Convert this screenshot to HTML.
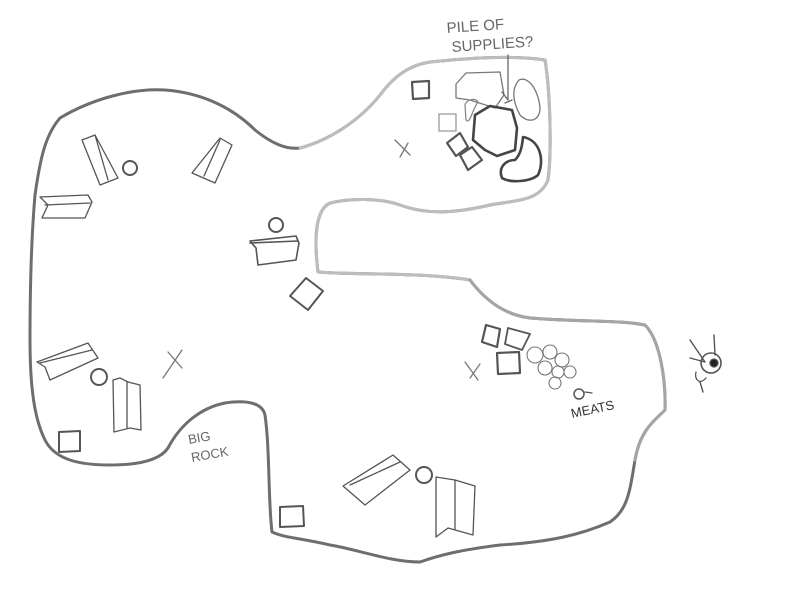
<!DOCTYPE html>
<html><head><meta charset="utf-8"><style>
html,body{margin:0;padding:0;background:#fff;width:800px;height:600px;overflow:hidden}
svg{display:block}
text{font-family:"Liberation Sans",sans-serif;fill:#666}
</style></head><body>
<svg width="800" height="600" viewBox="0 0 800 600" fill="none" stroke-linecap="round" stroke-linejoin="round">
<!-- main outline -->
<path d="M60,118 C90,100 130,88 165,90 C205,93 235,110 255,130 C270,142 285,150 300,148 C330,140 360,120 380,95 C395,75 410,65 430,62 C470,58 510,55 545,60 C550,90 552,150 548,180 C540,200 520,200 490,205 C460,212 430,216 400,205 C380,198 350,198 330,203 C315,210 314,240 318,272 C350,275 420,272 470,280 C485,300 505,315 530,318 C580,322 620,320 645,325 C660,340 666,380 665,410 C655,420 640,430 635,460 C630,490 628,510 610,522 C580,535 550,542 500,545 C460,550 440,555 420,562 C390,562 360,550 330,545 C300,538 285,538 272,532 C268,500 270,450 265,415 C262,402 245,400 225,403 C200,408 180,425 168,448 C160,460 140,465 110,465 C80,465 55,460 45,440 C35,420 30,390 30,340 C30,280 32,230 35,195 C40,160 45,135 60,118 Z" stroke="#6e6e6e" stroke-width="3"/>
<path d="M300,148 C330,140 360,120 380,95 C395,75 410,65 430,62 C470,58 510,55 545,60 C550,90 552,150 548,180 C540,200 520,200 490,205 C460,212 430,216 400,205 C380,198 350,198 330,203 C315,210 314,240 318,272 C350,275 420,272 470,280" stroke="#bdbdbd" stroke-width="3"/>
<path d="M470,280 C485,300 505,315 530,318 C580,322 620,320 645,325 C660,340 666,380 665,410 C655,420 640,430 635,460" stroke="#a5a5a5" stroke-width="3"/>
<g stroke="#555" stroke-width="1.3">
<!-- tables top-left -->
<path d="M82,140 L95,135 L118,178 L100,185 Z M95,135 L108,180"/>
<path d="M40,197 L88,195 L92,202 L85,218 L42,218 L48,205 Z M45,205 L90,203"/>
<path d="M192,173 L220,138 L232,145 L215,183 Z M220,140 L204,176"/>
<circle cx="130" cy="168" r="7" stroke-width="2"/>
<path d="M250,241 L296,236 L299,243 L296,260 L258,265 L256,248 Z M250,243 L298,241" stroke-width="1.6"/>
<circle cx="276" cy="225" r="7" stroke-width="2"/>
<path d="M290,296 L306,278 L323,291 L308,310 Z" stroke-width="2"/>
<!-- bottom-left -->
<path d="M37,362 L88,343 L98,358 L50,380 L45,367 Z M40,363 L92,350"/>
<circle cx="99" cy="377" r="8" stroke-width="2"/>
<path d="M113,380 L120,378 L128,382 L140,385 L141,430 L130,428 L114,432 Z M127,382 L127,428"/>
<path d="M59,432 L80,431 L80,451 L59,452 Z" stroke-width="2"/>
<path d="M163,378 L182,350 M168,352 L182,368" stroke="#777"/>
<!-- bottom -->
<path d="M343,486 L393,455 L410,470 L365,505 Z M350,485 L400,462"/>
<circle cx="424" cy="475" r="8" stroke-width="2"/>
<path d="M436,477 L455,480 L475,486 L473,535 L448,528 L436,537 Z M455,480 L455,530"/>
<path d="M280,507 L303,506 L304,526 L280,527 Z" stroke-width="2"/>
<!-- right top -->
<path d="M412,82 L429,81 L429,98 L413,99 Z" stroke-width="2.2"/>
<path d="M439,114 L456,114 L456,131 L439,131 Z" stroke="#999"/>
<path d="M447,143 L460,133 L468,147 L456,156 Z M460,155 L472,147 L482,160 L468,170 Z" stroke-width="2.2"/>
<path d="M395,140 L410,155 M400,157 L408,143" stroke="#777"/>
<path d="M456,84 L466,73 L500,72 L504,95 L495,108 L470,100 L456,98 Z" stroke="#777"/>
<path d="M465,105 C466,100 475,97 478,102 C472,110 470,125 466,120 Z" stroke="#888"/>
<path d="M475,115 L490,106 L512,110 L517,128 L515,150 L497,156 L485,150 L473,140 Z" stroke-width="2.6" stroke="#444"/>
<path d="M512,100 L505,103 M508,55 L508,100 L502,92" stroke="#666"/>
<path d="M519,80 C530,75 540,95 540,110 C538,122 528,123 520,115 C512,100 512,88 519,80 Z" stroke="#777"/>
<path d="M523,137 C540,140 545,160 538,175 C530,182 510,183 502,178 C498,168 505,160 515,160 C520,155 522,148 523,137 Z" stroke-width="2.6" stroke="#444"/>
<!-- right middle -->
<path d="M486,325 L500,329 L497,347 L482,342 Z" stroke-width="2.2" transform="translate(0,0)"/>
<path d="M508,328 L530,334 L522,350 L505,344 Z" stroke-width="1.8"/>
<path d="M497,353 L519,352 L520,373 L498,374 Z" stroke-width="2.2"/>
<path d="M465,362 L478,380 M470,378 L480,364" stroke="#777"/>
<g stroke="#777" stroke-width="1.1">
<circle cx="535" cy="355" r="8"/><circle cx="550" cy="352" r="7"/><circle cx="562" cy="360" r="7"/>
<circle cx="545" cy="368" r="7"/><circle cx="558" cy="372" r="6"/><circle cx="570" cy="372" r="6"/><circle cx="555" cy="383" r="6"/>
</g>
<circle cx="579" cy="394" r="5" stroke-width="1.5"/>
<path d="M585,392 L592,393"/>
<!-- creature -->
<path d="M690,340 L705,362 L690,358 M714,335 L715,355 M700,382 L703,392" stroke-width="1.4"/>
<circle cx="711" cy="363" r="10" stroke-width="1.6"/>
<circle cx="714" cy="363" r="4" fill="#222"/>
<path d="M696,372 C694,380 700,385 706,378"/>
</g>
<g font-size="15">
<text x="447" y="33" transform="rotate(-4 447 33)">PILE OF</text>
<text x="452" y="52" transform="rotate(-4 452 52)">SUPPLIES?</text>
</g>
<text x="189" y="444" font-size="13" transform="rotate(-10 189 444)">BIG</text>
<text x="192" y="462" font-size="13" transform="rotate(-10 192 462)">ROCK</text>
<text x="572" y="418" font-size="13" style="fill:#333" transform="rotate(-12 572 418)">MEATS</text>
</svg>
</body></html>
